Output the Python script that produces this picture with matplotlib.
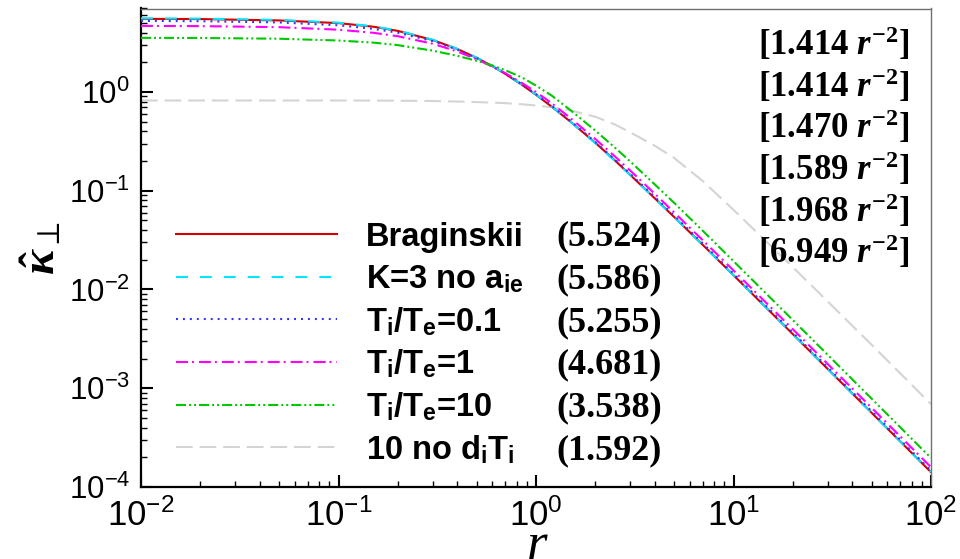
import matplotlib
matplotlib.use("Agg")
import matplotlib.pyplot as plt

plt.rcParams['font.family'] = ['Liberation Sans', 'DejaVu Sans']
plt.rcParams['mathtext.fontset'] = 'custom'
plt.rcParams['mathtext.rm'] = 'Liberation Serif:bold'
plt.rcParams['mathtext.it'] = 'Liberation Serif:bold:italic'
plt.rcParams['mathtext.bf'] = 'Liberation Sans:bold'
plt.rcParams['mathtext.sf'] = 'Liberation Sans'
plt.rcParams['lines.scale_dashes'] = False

# values (log-log)
r = [0.01, 0.02, 0.05, 0.1, 0.15, 0.2, 0.3, 0.4, 0.5, 0.6, 0.7, 0.85, 1, 1.2, 1.5,
     2, 2.5, 3, 4, 5, 7, 10, 20, 50, 100]
k_brag = [5.50, 5.47, 5.30, 4.98, 4.58, 4.15, 3.36, 2.72, 2.22, 1.83, 1.52, 1.18, 0.935,
          0.711, 0.497, 0.305, 0.204, 0.1445, 0.0836, 0.0543, 0.0282, 0.01395, 0.00352,
          0.000565, 0.0001412]
k_k3 = [5.566, 5.528, 5.36, 5.03, 4.62, 4.18, 3.38, 2.73, 2.23, 1.835, 1.53, 1.187, 0.941,
        0.713, 0.496, 0.302, 0.2016, 0.1438, 0.0834, 0.0542, 0.0281, 0.01394, 0.00352,
        0.000565, 0.0001412]
k_t01 = [5.237, 5.204, 5.058, 4.73, 4.356, 3.977, 3.271, 2.678, 2.203, 1.827, 1.530, 1.195,
         0.952, 0.725, 0.507, 0.310, 0.2078, 0.1484, 0.0863, 0.0562, 0.0292, 0.01447,
         0.003655, 0.000587, 0.0001468]
k_t1 = [4.667, 4.642, 4.529, 4.271, 3.974, 3.666, 3.078, 2.567, 2.146, 1.81, 1.55, 1.23, 1.0,
        0.77, 0.54, 0.333, 0.224, 0.160, 0.0928, 0.0604, 0.0314, 0.0156, 0.003946,
        0.000635, 0.0001587]
k_t10 = [3.53, 3.52, 3.46, 3.32, 3.16, 2.98, 2.62, 2.32, 2.07, 1.86, 1.66, 1.40, 1.16, 0.92,
         0.65, 0.405, 0.275, 0.198, 0.1155, 0.0755, 0.0392, 0.01935, 0.00489, 0.000786,
         0.0001966]
k_nod = [0.82, 0.82, 0.82, 0.82, 0.818, 0.815, 0.81, 0.80, 0.79, 0.78, 0.77, 0.75, 0.73, 0.70,
         0.65, 0.56, 0.47, 0.39, 0.285, 0.215, 0.125, 0.064, 0.0168, 0.00276, 0.00069]

labels = ['Braginskii', 'K=3 no a$_\\mathbf{ie}$', 'T$_\\mathbf{i}$/T$_\\mathbf{e}$=0.1',
          'T$_\\mathbf{i}$/T$_\\mathbf{e}$=1', 'T$_\\mathbf{i}$/T$_\\mathbf{e}$=10',
          '10 no d$_\\mathbf{i}$T$_\\mathbf{i}$']
low_r = ['(5.524)', '(5.586)', '(5.255)', '(4.681)', '(3.538)', '(1.592)']
high_r = ['1.414', '1.414', '1.470', '1.589', '1.968', '6.949']

series = [k_brag, k_k3, k_t01, k_t1, k_t10, k_nod]
colors = ['#d40000', '#00e6ff', '#3232ff', '#ff00ff', '#00c800', '#d4d4d4']
dashes = [(None, None), (8.6, 8.6), (1.4, 3.6), (8.6, 2.9, 1.4, 3.6),
          (7.2, 2.2, 1.4, 2.2, 1.4, 2.2), (12, 5)]
zorders = [3.0, 3.1, 3.2, 3.3, 3.4, 2.5]

W, H = 960, 559
fig = plt.figure(figsize=(W / 100, H / 100), dpi=100)
L, R, T, B = 141, 931, 8.5, 487
ax = fig.add_axes([L / W, 1 - B / H, (R - L) / W, (B - T) / H])

def axx(px):
    return (px - L) / (R - L)

def axy(py):
    return (B - py) / (B - T)

for i in range(len(series)):
    ln, = ax.plot(r, series[i], color=colors[i], lw=1.5, zorder=zorders[i])
    if dashes[i][0] is not None:
        ln.set_dashes(dashes[i])

ax.set_xscale('log')
ax.set_yscale('log')
ax.set_xlim(1e-2, 1e2)
ax.set_ylim(1e-4, 7.0)

ax.tick_params(which='both', direction='in', top=False, right=False)
ax.tick_params(which='major', length=8.5, width=1.5, pad=8)
ax.tick_params(which='minor', length=4.5, width=1.0)
ax.tick_params(axis='y', labelsize=22.5)
ax.tick_params(axis='x', labelsize=25)
for s in ['left', 'bottom']:
    ax.spines[s].set_linewidth(1.6)
    ax.spines[s].set_color('black')
for s in ['top', 'right']:
    ax.spines[s].set_linewidth(1.0)
    ax.spines[s].set_color('#707070')

# legend-like block
rows = [234, 276.7, 319.4, 362, 404.7, 447.4]
for i in range(len(series)):
    ln, = ax.plot([axx(176), axx(337)], [axy(rows[i])] * 2, transform=ax.transAxes,
                  color=colors[i], lw=1.5, clip_on=False)
    if dashes[i][0] is not None:
        ln.set_dashes(dashes[i])
    ax.text(axx(366), axy(rows[i] + 11.5), labels[i], transform=ax.transAxes,
            fontsize=23.5, fontweight='bold', va='baseline', ha='left')
    ax.text(axx(556), axy(rows[i] + 11.5), low_r[i], transform=ax.transAxes,
            fontsize=26, fontweight='bold', family='Liberation Serif',
            va='baseline', ha='left')

brows = [55, 96.7, 138.3, 180, 221.7, 263.3]
for i in range(len(high_r)):
    ax.text(axx(758), axy(brows[i]), '[' + high_r[i] + ' $r^{-2}$]', transform=ax.transAxes,
            fontsize=25, fontweight='bold', family='Liberation Serif',
            va='baseline', ha='left')

fig.text(537 / W, 1 - 559 / H, 'r', fontsize=38, family='Liberation Serif',
         style='italic', ha='center', va='baseline')
fig.text(42 / W, 1 - 248 / H, r'$\hat{\kappa}_{\perp}$', fontsize=34, rotation=90,
         ha='center', va='center')

fig.savefig('out.png', dpi=100)
